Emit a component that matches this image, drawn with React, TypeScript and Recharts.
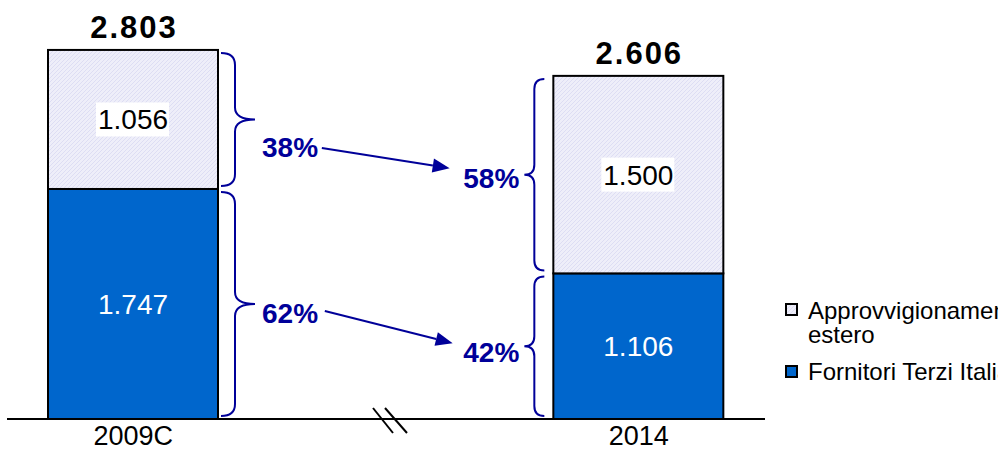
import React from 'react';
import { BarChart, Bar, XAxis, YAxis, LabelList, Legend, ReferenceLine } from 'recharts';

// values in thousands
const categories = ['2009C', '', '2014'];
const fornitoriItaliani = [1747, null, 1106];
const approvvigionamentoEstero = [1056, null, 1500];
const totals = [2803, null, 2606];

const data = categories.map((name, i) => ({
  name,
  italiani: fornitoriItaliani[i],
  estero: approvvigionamentoEstero[i],
  total: totals[i],
}));

const BLUE = '#0066CC';
const NAVY = '#000099';
const FONT = '"Liberation Sans", Arial, sans-serif';

// fine tuning of where the % labels sit relative to the brace tip
const pctOffsets: Record<string, number[]> = { estero: [28, 0, 3], italiani: [9, 0, 6] };

const fmt = (n: number) => String(n).replace(/\B(?=(\d{3})+(?!\d))/g, '.');

const bracePath = (side: 'right' | 'left', edge: number, y0: number, y1: number) => {
  const ym = (y0 + y1) / 2;
  const xa = side === 'right' ? edge + 3 : edge - 9;
  const xm = side === 'right' ? xa + 14 : xa - 10;
  const xb = side === 'right' ? xa + 34 : xa - 20;
  const r = side === 'right' ? 12 : 10;
  return `M${xa},${y0} Q${xm},${y0} ${xm},${y0 + r} L${xm},${ym - r} Q${xm},${ym} ${xb},${ym} ` +
    `Q${xm},${ym} ${xm},${ym + r} L${xm},${y1 - r} Q${xm},${y1} ${xa},${y1}`;
};

const makeShape = (key: 'estero' | 'italiani') => (props: any) => {
  const { x, y, width, height, index, fill, payload } = props;
  if (!payload || payload[key] == null) return <g />;
  const pct = Math.round((payload[key] / payload.total) * 100);
  const side = index === 0 ? 'right' : 'left';
  const mid = y + height / 2 + pctOffsets[key][index];
  return (
    <g>
      <rect x={x} y={y} width={width} height={height} fill={fill} stroke="#000" strokeWidth={2} />
      <path
        d={bracePath(side, side === 'right' ? x + width : x, y + 3, y + height - 3)}
        fill="none"
        stroke={NAVY}
        strokeWidth={2}
      />
      <text
        x={side === 'right' ? x + width + 44 : x - 34}
        y={mid + 10}
        textAnchor={side === 'right' ? 'start' : 'end'}
        fontSize={28}
        fontWeight="bold"
        fill={NAVY}
        fontFamily={FONT}
      >
        {pct}%
      </text>
    </g>
  );
};

const valueLabel = (dark: boolean) => (p: any) => {
  const vb = p.viewBox ?? p;
  const { x, y, width, height } = vb;
  if (p.value == null || x == null) return null;
  const cx = x + width / 2;
  const cy = y + height / 2;
  return (
    <g>
      {dark && <rect x={cx - 37} y={cy - 17} width={73} height={34} fill="#fff" />}
      <text x={cx} y={cy + 10} textAnchor="middle" fontSize={28} fill={dark ? '#000' : '#fff'} fontFamily={FONT}>
        {fmt(p.value)}
      </text>
    </g>
  );
};

const totalLabel = (p: any) => {
  const vb = p.viewBox ?? p;
  const { x, y, width } = vb;
  if (p.value == null || x == null) return null;
  return (
    <text x={x + width / 2 + 1} y={y - 12} textAnchor="middle" fontSize={31} fontWeight="bold"
      letterSpacing={2} fill="#000" fontFamily={FONT}>
      {fmt(p.value)}
    </text>
  );
};

const XTick = (p: any) => {
  const { x, y, payload } = p;
  if (payload.value === '') {
    // axis break marks
    return (
      <g stroke="#000" strokeWidth={2}>
        <line x1={x - 13} y1={y - 11} x2={x + 7} y2={y + 14} />
        <line x1={x - 1} y1={y - 11} x2={x + 21} y2={y + 14} />
      </g>
    );
  }
  return (
    <text x={x} y={y + 26} textAnchor="middle" fontSize={27} fill="#000" fontFamily={FONT}>
      {payload.value}
    </text>
  );
};

const makeArrow = (d: number[]) => (p: any) => {
  const sx = p.x1 + d[0];
  const sy = p.y1 + d[1];
  const ex = p.x2 + d[2];
  const ey = p.y2 + d[3];
  const a = Math.atan2(ey - sy, ex - sx);
  const L = 17;
  const W = 7;
  const bx = ex - L * Math.cos(a);
  const by = ey - L * Math.sin(a);
  const px = -Math.sin(a) * W;
  const py = Math.cos(a) * W;
  return (
    <g>
      <line x1={sx} y1={sy} x2={bx} y2={by} stroke={NAVY} strokeWidth={2} />
      <polygon points={`${ex},${ey} ${bx + px},${by + py} ${bx - px},${by - py}`} fill={NAVY} />
    </g>
  );
};

const Swatch = ({ color }: { color: string }) => (
  <svg width={13} height={13} style={{ display: 'block', flex: 'none' }}>
    <rect x={1} y={1} width={11} height={11} fill={color} stroke="#000" strokeWidth={2} />
  </svg>
);

const LegendContent = (p: any) => {
  const items = p.payload ?? [];
  return (
    <div style={{ fontFamily: FONT, fontSize: 24, color: '#000' }}>
      {items.map((it: any, i: number) => (
        <div key={it.value} style={{ display: 'flex', alignItems: 'flex-start', marginTop: i === 0 ? 0 : 13 }}>
          <div style={{ marginTop: i === 0 ? 4 : 5 }}>
            <Swatch color={it.color} />
          </div>
          <div style={{ marginLeft: 10, width: 250, lineHeight: '24px', whiteSpace: 'normal' }}>{it.value}</div>
        </div>
      ))}
    </div>
  );
};

export default function App() {
  return (
    <div style={{ position: 'absolute', left: 0, top: 0, width: 998, height: 449, overflow: 'hidden', background: '#fff' }}>
      <svg width={0} height={0} style={{ position: 'absolute' }}>
        <defs>
          <pattern id="hatch" width={4} height={4} patternUnits="userSpaceOnUse">
            <rect width={4} height={4} fill="#EEEEF9" />
            <path d="M0,4 L4,0 M-1,1 L1,-1 M3,5 L5,3" stroke="#DDDDF3" strokeWidth={1} />
          </pattern>
        </defs>
      </svg>
      <BarChart width={998} height={449} data={data} margin={{ top: 24, right: 233, bottom: 0, left: 7 }} barSize={170}>
        <XAxis
          dataKey="name"
          height={30}
          tickSize={0}
          tickMargin={0}
          tickLine={false}
          interval={0}
          axisLine={{ stroke: '#000', strokeWidth: 2 }}
          tick={<XTick />}
        />
        <YAxis hide domain={[0, 3000]} />
        <Bar dataKey="italiani" name="Fornitori Terzi Italiani" stackId="a" fill={BLUE}
          shape={makeShape('italiani')} isAnimationActive={false}>
          <LabelList dataKey="italiani" content={valueLabel(false)} />
        </Bar>
        <Bar dataKey="estero" name="Approvvigionamento estero" stackId="a" fill="url(#hatch)"
          shape={makeShape('estero')} isAnimationActive={false}>
          <LabelList dataKey="estero" content={valueLabel(true)} />
          <LabelList dataKey="total" content={totalLabel} />
        </Bar>
        <ReferenceLine
          segment={[
            { x: categories[0], y: fornitoriItaliani[0]! + approvvigionamentoEstero[0]! / 2 },
            { x: categories[2], y: fornitoriItaliani[2]! + approvvigionamentoEstero[2]! / 2 },
          ]}
          shape={makeArrow([188.5, 28.5, -189, -6.5])}
        />
        <ReferenceLine
          segment={[
            { x: categories[0], y: fornitoriItaliani[0]! / 2 },
            { x: categories[2], y: fornitoriItaliani[2]! / 2 },
          ]}
          shape={makeArrow([191.5, 7, -186, -3])}
        />
        <Legend
          layout="horizontal"
          align="center"
          verticalAlign="middle"
          content={<LegendContent />}
          wrapperStyle={{ position: 'absolute', left: 785, top: 299, width: 400, height: 'auto' }}
        />
      </BarChart>
    </div>
  );
}
